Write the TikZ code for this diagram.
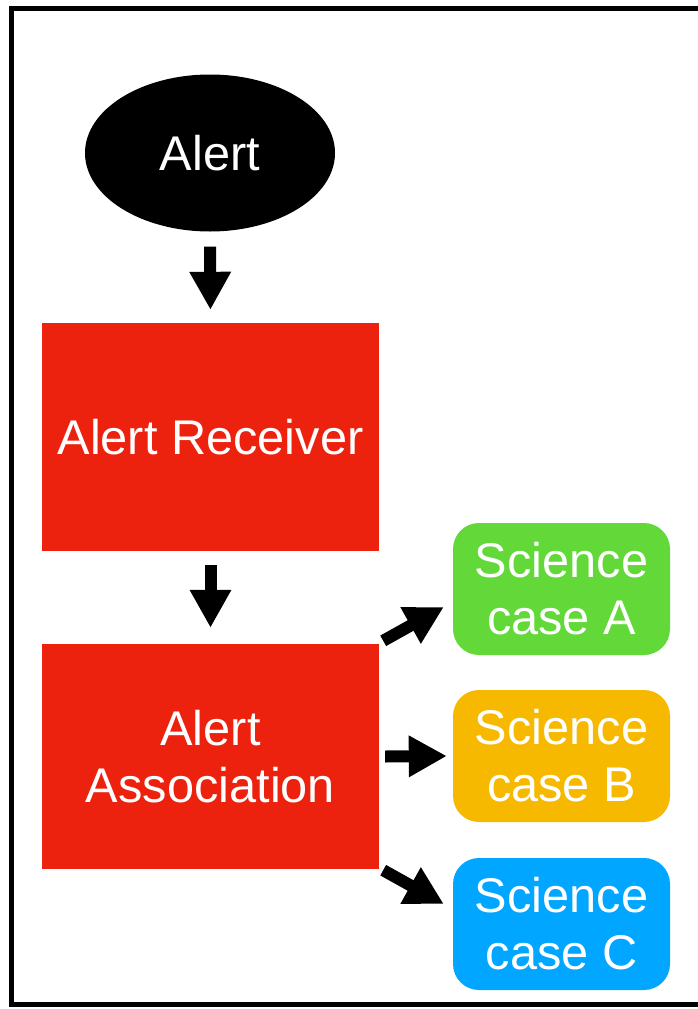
\documentclass[tikz,border=0pt]{standalone}
\usepackage{fontspec}
\setmainfont{Liberation Sans}
\usetikzlibrary{arrows.meta,shapes.geometric}
\definecolor{boxred}{RGB}{237,34,14}
\definecolor{boxgreen}{RGB}{98,217,56}
\definecolor{boxorange}{RGB}{247,185,0}
\definecolor{boxblue}{RGB}{0,166,255}
\tikzset{
  lbl/.style={text=white,align=center,inner sep=0pt,font=\fontsize{48.7}{57}\selectfont},
  redbox/.style={lbl,fill=boxred,minimum width=337pt},
  scibox/.style={lbl,rounded corners=26pt,minimum width=217pt,minimum height=132pt},
  blk/.style={line width=12pt,-{Triangle[width=39pt,length=38pt]}}
}
\begin{document}
\begin{tikzpicture}[x=1pt,y=-1pt]
\useasboundingbox (0,0) rectangle (698,1009);
\draw[line width=4.5pt] (698,8.5) -- (11.5,8.5) -- (11.5,1004.5) -- (698,1004.5);
\node[lbl,ellipse,fill=black,minimum width=250pt,minimum height=157pt] (alert) at (210,153) {Alert};
\node[redbox,minimum height=228pt] (recv) at (210.5,437) {Alert Receiver};
\node[redbox,minimum height=225pt] (assoc) at (210.5,756.5) {Alert\\Association};
\node[scibox,fill=boxgreen] (sa) at (561.5,589) {Science\\case A};
\node[scibox,fill=boxorange] (sb) at (561.5,756) {Science\\case B};
\node[scibox,fill=boxblue] (sc) at (561.5,924) {Science\\case C};
\draw[blk,shorten <=15pt,shorten >=13pt] (alert.south) -- (recv.north);
\draw[blk,shorten <=14pt,shorten >=16pt] (recv.south) -- (assoc.north);
\draw[blk] ([xshift=4pt,yshift=3pt]assoc.north east) -- ([xshift=-9pt,yshift=-18pt]sa.west);
\draw[blk] ([xshift=6pt]assoc.east) -- ([xshift=-6pt]sb.west);
\draw[blk] ([xshift=4pt,yshift=-1pt]assoc.south east) -- ([xshift=-9pt,yshift=20pt]sc.west);
\end{tikzpicture}
\end{document}
